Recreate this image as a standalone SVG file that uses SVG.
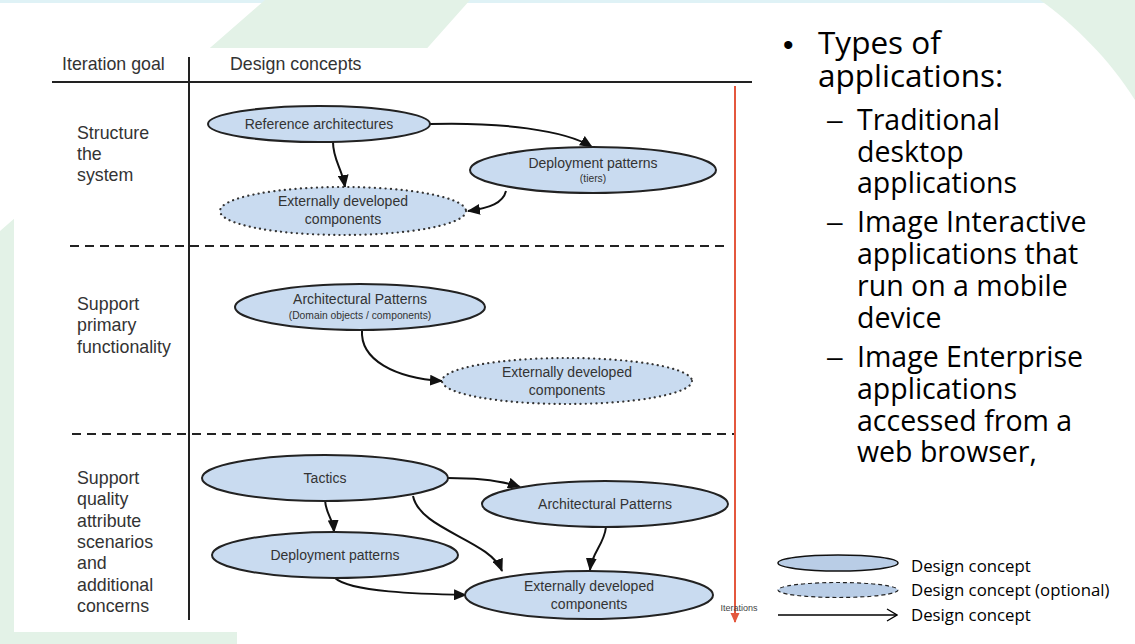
<svg xmlns="http://www.w3.org/2000/svg" width="1135" height="644" viewBox="0 0 1135 644">
  <style>
    .node { fill: #c9dbf0; stroke: #222; stroke-width: 2; }
    .opt { fill: #c9dbf0; stroke: #333; stroke-width: 2.2; stroke-dasharray: 0.1 5.2; stroke-linecap: round; }
    .lbl { font-family: "Liberation Sans", Arial, sans-serif; font-size: 14px; fill: #333; text-anchor: middle; }
    .sub { font-family: "Liberation Sans", Arial, sans-serif; font-size: 10.3px; fill: #333; text-anchor: middle; }
    .goal { font-family: "Liberation Sans", Arial, sans-serif; font-size: 17.8px; fill: #333; }
    .edge { fill: none; stroke: #111; stroke-width: 2; marker-end: url(#head); }
    .sep { stroke: #222; stroke-width: 2; stroke-dasharray: 9 6; }
    .l1 { font-family: "Open Sans", "Noto Sans", sans-serif; font-size: 31.5px; fill: #000; }
    .l2 { font-family: "Open Sans", "Noto Sans", sans-serif; font-size: 28.5px; fill: #000; }
    .mark { font-family: "Liberation Sans", Arial, sans-serif; fill: #000; }
    .leg { font-family: "Open Sans", "Noto Sans", sans-serif; font-size: 16.8px; fill: #000; }
  </style>
  <defs>
    <marker id="head" markerUnits="userSpaceOnUse" markerWidth="13" markerHeight="11" refX="12" refY="5.5" orient="auto">
      <path d="M0,0 L13,5.5 L0,11 z" fill="#111"/>
    </marker>
    <marker id="redhead" markerUnits="userSpaceOnUse" markerWidth="10" markerHeight="10" refX="9" refY="4.5" orient="auto">
      <path d="M0,0 L10,4.5 L0,9 z" fill="#e4573d"/>
    </marker>
    <marker id="openhead" markerUnits="userSpaceOnUse" markerWidth="12" markerHeight="14" refX="11" refY="7" orient="auto">
      <path d="M1,1 L11,7 L1,13" fill="none" stroke="#000" stroke-width="1.3"/>
    </marker>
  </defs>

  <!-- slide background -->
  <rect width="1135" height="644" fill="#fff"/>
  <rect width="1135" height="3" fill="#dff2f6"/>
  <polygon points="265,0 470,0 237,262 237,644 0,644 0,231" fill="#e3f2e7"/>
  <path d="M1040,0 C1075,25 1110,60 1135,100 L1135,0 Z" fill="#e3f2e7"/>

  <!-- diagram panel -->
  <rect x="14" y="48" width="746" height="584" fill="#fff"/>

  <!-- table frame -->
  <g id="frame">
    <text class="goal" x="62" y="70">Iteration goal</text>
    <text class="goal" x="230" y="70">Design concepts</text>
    <line x1="52" y1="82" x2="752" y2="82" stroke="#222" stroke-width="2"/>
    <line x1="189" y1="57" x2="189" y2="620" stroke="#222" stroke-width="2"/>
    <line class="sep" x1="70" y1="246" x2="728" y2="246"/>
    <line class="sep" x1="72" y1="434" x2="735" y2="434"/>
    <line x1="735" y1="86" x2="735" y2="622" stroke="#e4573d" stroke-width="2" marker-end="url(#redhead)"/>
    <text x="739" y="611" font-family="Liberation Sans, Arial, sans-serif" font-size="9" fill="#444" text-anchor="middle">Iterations</text>
  </g>

  <!-- iteration goals -->
  <g id="goal-structure">
    <text class="goal" x="77"><tspan x="77" y="139">Structure</tspan><tspan x="77" y="160">the</tspan><tspan x="77" y="181">system</tspan></text>
  </g>
  <g id="goal-primary">
    <text class="goal" x="77"><tspan x="77" y="310">Support</tspan><tspan x="77" y="331">primary</tspan><tspan x="77" y="353">functionality</tspan></text>
  </g>
  <g id="goal-quality">
    <text class="goal" x="77"><tspan x="77" y="484">Support</tspan><tspan x="77" y="505">quality</tspan><tspan x="77" y="527">attribute</tspan><tspan x="77" y="548">scenarios</tspan><tspan x="77" y="569">and</tspan><tspan x="77" y="591">additional</tspan><tspan x="77" y="612">concerns</tspan></text>
  </g>

  <!-- connectors -->
  <g id="connectors">
    <path class="edge" d="M430,124 C500,122 565,130 592,147"/>
    <path class="edge" d="M333,142 C333,160 342,168 345,187"/>
    <path class="edge" d="M506,191 C503,203 490,208 468,211"/>
    <path class="edge" d="M362,330 C360,360 395,378 442,381"/>
    <path class="edge" d="M448,478 C478,478 500,480 520,487"/>
    <path class="edge" d="M325,500 C326,515 333,518 334,532"/>
    <path class="edge" d="M413,496 C420,530 490,540 502,571"/>
    <path class="edge" d="M606,527 C604,545 592,552 590,570"/>
    <path class="edge" d="M335,578 C350,592 420,594 466,595"/>
  </g>

  <!-- design concepts: structure the system -->
  <g id="ref-arch">
    <ellipse class="node" cx="319" cy="124" rx="111" ry="18"/>
    <text class="lbl" x="319" y="129">Reference architectures</text>
  </g>
  <g id="deploy-tiers">
    <ellipse class="node" cx="593" cy="170" rx="123" ry="23"/>
    <text class="lbl" x="593" y="168">Deployment patterns</text>
    <text class="sub" x="593" y="182" font-size="8">(tiers)</text>
  </g>
  <g id="ext-1">
    <ellipse class="opt" cx="343" cy="211" rx="123" ry="24"/>
    <text class="lbl" x="343" y="206">Externally developed</text>
    <text class="lbl" x="343" y="224">components</text>
  </g>

  <!-- design concepts: primary functionality -->
  <g id="arch-domain">
    <ellipse class="node" cx="360" cy="307" rx="125" ry="23"/>
    <text class="lbl" x="360" y="304">Architectural Patterns</text>
    <text class="sub" x="360" y="319">(Domain objects / components)</text>
  </g>
  <g id="ext-2">
    <ellipse class="opt" cx="567" cy="381" rx="125" ry="23"/>
    <text class="lbl" x="567" y="377">Externally developed</text>
    <text class="lbl" x="567" y="395">components</text>
  </g>

  <!-- design concepts: quality attributes -->
  <g id="tactics">
    <ellipse class="node" cx="325" cy="478" rx="123" ry="23"/>
    <text class="lbl" x="325" y="483">Tactics</text>
  </g>
  <g id="deploy-3">
    <ellipse class="node" cx="335" cy="555" rx="123" ry="23"/>
    <text class="lbl" x="335" y="560">Deployment patterns</text>
  </g>
  <g id="arch-3">
    <ellipse class="node" cx="605" cy="504" rx="123" ry="23"/>
    <text class="lbl" x="605" y="509">Architectural Patterns</text>
  </g>
  <g id="ext-3">
    <ellipse class="node" cx="589" cy="595" rx="124" ry="24"/>
    <text class="lbl" x="589" y="591">Externally developed</text>
    <text class="lbl" x="589" y="609">components</text>
  </g>

  <!-- application types list -->
  <g id="app-types">
    <text class="mark" x="783" y="55" font-size="30">•</text>
    <text class="l1"><tspan x="818" y="54">Types of</tspan><tspan x="818" y="87">applications:</tspan></text>
    <text class="mark" x="827" y="129" font-size="28">–</text>
    <text class="l2"><tspan x="857" y="130">Traditional</tspan><tspan x="857" y="162">desktop</tspan><tspan x="857" y="193">applications</tspan></text>
    <text class="mark" x="827" y="231" font-size="28">–</text>
    <text class="l2"><tspan x="857" y="232">Image Interactive</tspan><tspan x="857" y="264">applications that</tspan><tspan x="857" y="296">run on a mobile</tspan><tspan x="857" y="328">device</tspan></text>
    <text class="mark" x="827" y="366" font-size="28">–</text>
    <text class="l2"><tspan x="857" y="367">Image Enterprise</tspan><tspan x="857" y="399">applications</tspan><tspan x="857" y="431">accessed from a</tspan><tspan x="857" y="462">web browser,</tspan></text>
  </g>

  <!-- legend -->
  <g id="legend">
    <ellipse cx="838" cy="563" rx="60" ry="8" fill="#b9cde6" stroke="#111" stroke-width="1.5"/>
    <text class="leg" x="911" y="572">Design concept</text>
    <ellipse cx="838" cy="590" rx="60" ry="7.5" fill="#b9cde6" stroke="#222" stroke-width="1.2" stroke-dasharray="4 3"/>
    <text class="leg" x="911" y="596">Design concept (optional)</text>
    <line x1="778" y1="615" x2="897" y2="615" stroke="#000" stroke-width="1.3" marker-end="url(#openhead)"/>
    <text class="leg" x="911" y="621">Design concept</text>
  </g>
</svg>
